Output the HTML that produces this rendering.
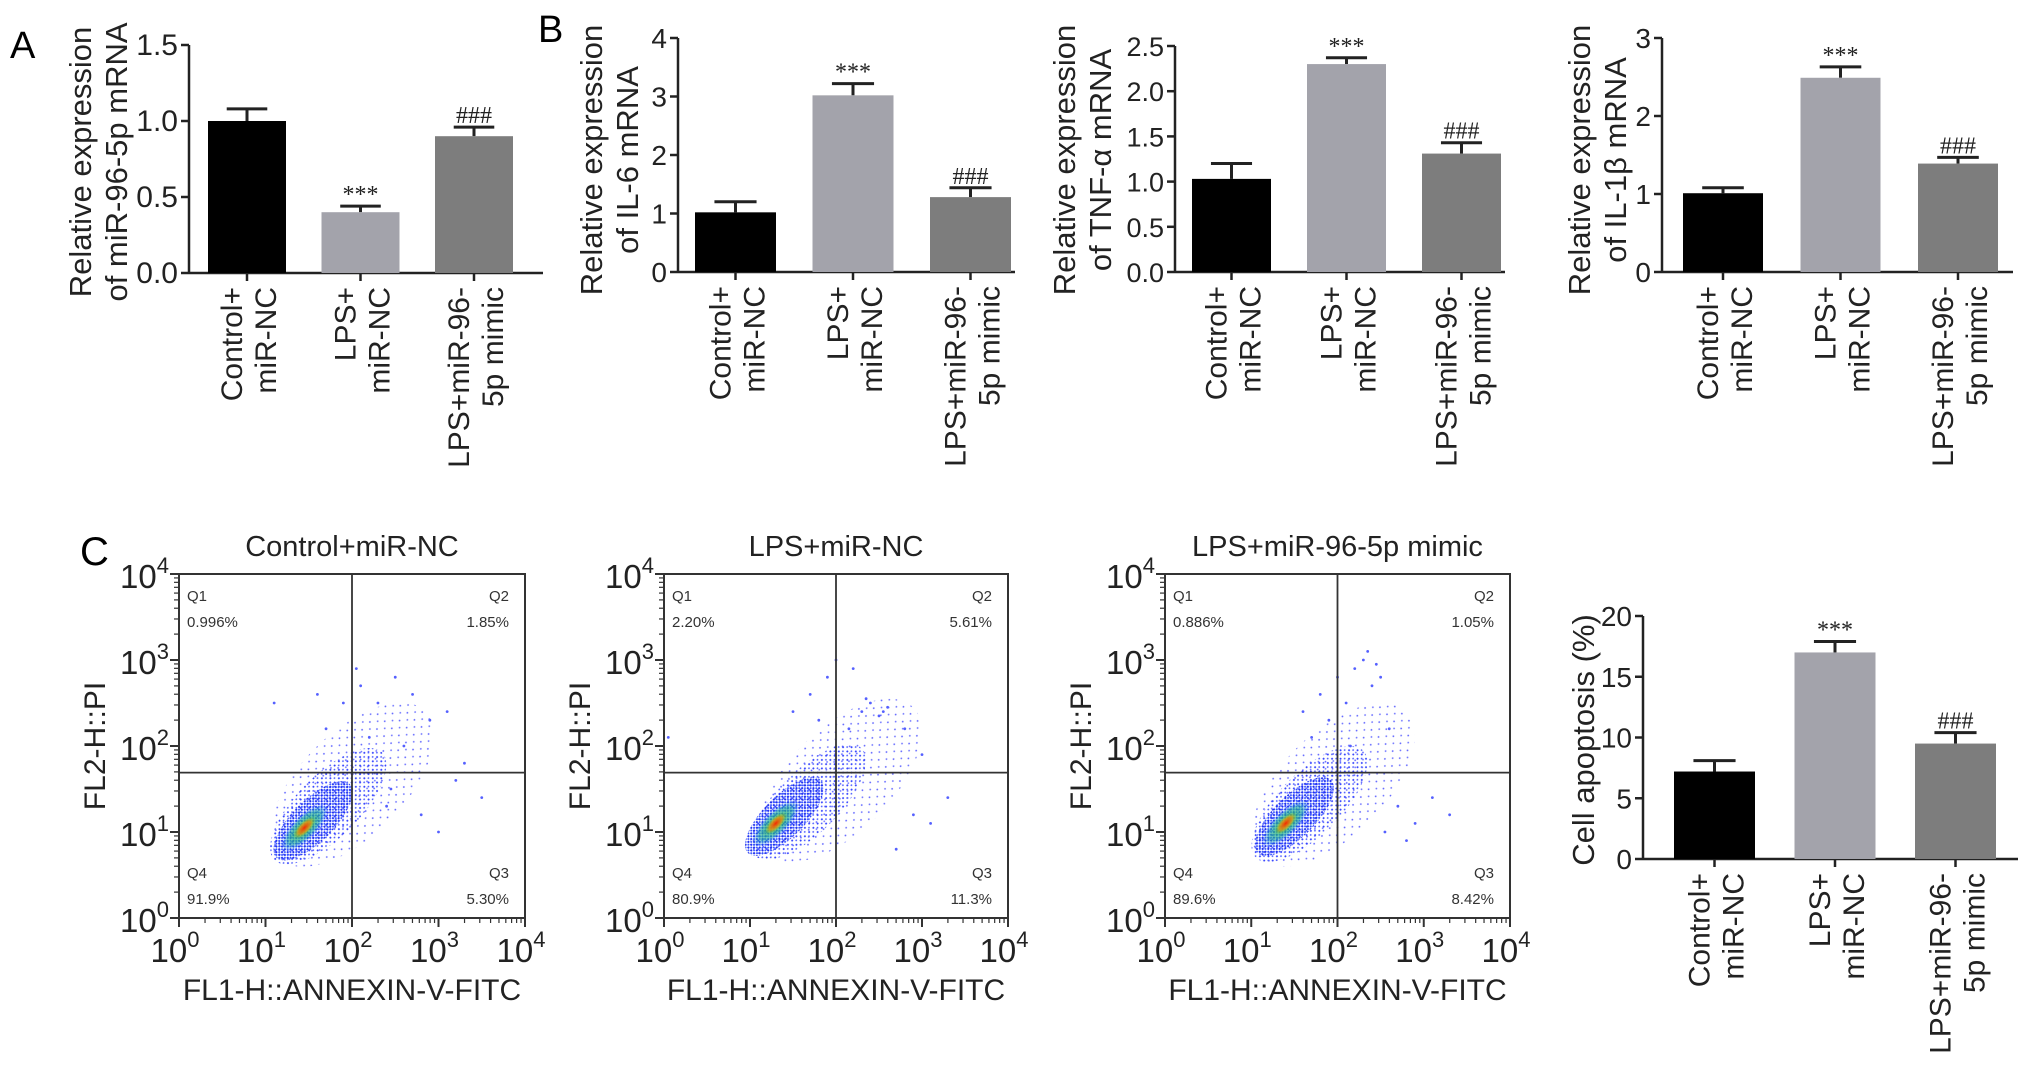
<!DOCTYPE html>
<html><head><meta charset="utf-8"><style>
html,body{margin:0;padding:0;background:#fff;}
svg{display:block;font-family:"Liberation Sans",sans-serif;}
</style></head><body>
<svg id="fig" width="2031" height="1076" viewBox="0 0 2031 1076" xmlns="http://www.w3.org/2000/svg">
<defs>
<radialGradient id="gGreen"><stop offset="0" stop-color="#30c040" stop-opacity="0.95"/><stop offset="0.7" stop-color="#20b0a0" stop-opacity="0.6"/><stop offset="1" stop-color="#2080ff" stop-opacity="0"/></radialGradient>
<radialGradient id="gRed"><stop offset="0" stop-color="#ff2000" stop-opacity="0.95"/><stop offset="0.6" stop-color="#ff9000" stop-opacity="0.7"/><stop offset="1" stop-color="#c0e000" stop-opacity="0"/></radialGradient>
<pattern id="pDense" width="4" height="4" patternUnits="userSpaceOnUse"><circle cx="1" cy="1" r="1.1" fill="#2030f0"/><circle cx="3" cy="3" r="1" fill="#3050ff"/></pattern>
<pattern id="pMid" width="6" height="6" patternUnits="userSpaceOnUse"><circle cx="1.5" cy="2" r="1" fill="#3040ff"/><circle cx="4.5" cy="4.8" r="0.9" fill="#5060ff"/></pattern>
<pattern id="pSparse" width="11" height="10" patternUnits="userSpaceOnUse"><circle cx="2" cy="3" r="0.9" fill="#5a60ff"/><circle cx="8" cy="8" r="0.9" fill="#6a70ff"/></pattern>
</defs>
<text x="10" y="58" font-size="38">A</text>
<text x="538" y="42" font-size="38">B</text>
<text x="80" y="565" font-size="40">C</text>
<g id="charts"></g>
</svg>
<script>
// ---- Bar chart data ----
const categories = [["Control+","miR-NC"],["LPS+","miR-NC"],["LPS+miR-96-","5p mimic"]];
const miR96Values = [1.0, 0.40, 0.90];
const miR96Errors = [0.08, 0.04, 0.06];
const il6Values = [1.02, 3.02, 1.28];
const il6Errors = [0.18, 0.20, 0.16];
const tnfValues = [1.03, 2.30, 1.31];
const tnfErrors = [0.17, 0.07, 0.12];
const il1bValues = [1.01, 2.49, 1.39];
const il1bErrors = [0.07, 0.14, 0.08];
const apoptosisValues = [7.2, 17.0, 9.5];
const apoptosisErrors = [0.9, 0.9, 0.9];
const marks = ["", "***", "###"];
const miR96Marks = ["", "***", "###"];
const ticksA = ["0.0","0.5","1.0","1.5"];
const ticksIL6 = ["0","1","2","3","4"];
const ticksTNF = ["0.0","0.5","1.0","1.5","2.0","2.5"];
const ticksIL1b = ["0","1","2","3"];
const ticksApop = ["0","5","10","15","20"];
// ---- Flow cytometry data ----
const flowTitles = ["Control+miR-NC","LPS+miR-NC","LPS+miR-96-5p mimic"];
const q1Pct = ["0.996%","2.20%","0.886%"];
const q2Pct = ["1.85%","5.61%","1.05%"];
const q3Pct = ["5.30%","11.3%","8.42%"];
const q4Pct = ["91.9%","80.9%","89.6%"];
const gateX = [2.0, 2.0, 2.0];
const gateY = [1.69, 1.69, 1.69];
const coreX = [1.45, 1.3, 1.4];
const coreY = [1.05, 1.1, 1.1];
const cloudX = [2.0, 2.05, 1.95];
const cloudY = [1.55, 1.6, 1.55];
// sparse outlier events, log10 coordinates
const outX1 = [2.1,2.3,2.5,2.7,2.9,3.1,2.2,2.6,3.3,1.7,1.9,2.4,2.8,3.0,1.6,2.05,2.45,3.2,3.5,1.1];
const outY1 = [2.7,2.5,2.8,2.6,2.3,2.4,2.1,2.0,1.8,2.2,2.5,1.3,1.2,1.0,2.6,2.9,1.5,1.6,1.4,2.5];
const outX2 = [2.3,2.4,2.5,2.6,2.2,2.8,3.0,1.7,1.8,2.9,3.1,2.0,1.5,2.7,3.3,1.9,2.35,2.55,0.05,2.15];
const outY2 = [2.4,2.5,2.35,2.45,2.9,2.2,1.9,2.6,2.3,1.2,1.1,3.0,2.4,0.8,1.4,2.8,2.55,2.4,2.1,2.2];
const outX3 = [2.2,2.3,2.4,2.5,2.1,1.8,1.9,2.6,2.7,2.9,3.1,1.7,2.35,2.0,2.8,3.3,2.45,1.6,2.15,2.55];
const outY3 = [2.9,3.0,2.7,2.8,2.5,2.6,2.3,2.2,1.3,1.1,1.4,2.1,3.1,2.8,0.9,1.2,2.95,2.4,2.0,1.0];
const outXs = [outX1,outX2,outX3];
const outYs = [outY1,outY2,outY3];
const decadeTicks = [0,1,2,3,4];

const NS="http://www.w3.org/2000/svg";
const root=document.getElementById('charts');
function el(tag,attrs,parent){const e=document.createElementNS(NS,tag);for(const k in attrs)e.setAttribute(k,attrs[k]);(parent||root).appendChild(e);return e;}

function barChart(cfg){
  const g=el('g',{});
  
  
  const ymax=parseFloat(cfg.ticks[cfg.ticks.length-1]);
  const ys=v=>cfg.y0-(v/ymax)*(cfg.y0-cfg.yTop);
  const colors=["#000","#a3a3ab","#7d7d7d"];
  const yAxis=el('line',{x1:cfg.ax,y1:cfg.yTop,x2:cfg.ax,y2:cfg.y0,stroke:"#222","stroke-width":2.5},g);
  
  
  const xAxis=el('line',{x1:cfg.ax,y1:cfg.y0,x2:cfg.xEnd,y2:cfg.y0,stroke:"#222","stroke-width":2.5},g);
  
  
  cfg.ticks.forEach(t=>{
    const y=ys(parseFloat(t));
    el('line',{x1:cfg.ax-8,y1:y,x2:cfg.ax,y2:y,stroke:"#222","stroke-width":2.5},g);
    const tx=el('text',{x:cfg.ax-11,y:y+10,"font-size":cfg.tfs,"text-anchor":"end",fill:"#222"},g);
    tx.textContent=t;
    
    
  });
  const bw=cfg.bw, pitch=cfg.pitch;
  cfg.values.forEach((v,i)=>{
    const cx=cfg.first+bw/2+i*pitch;
    const top=ys(v), et=ys(v+cfg.errors[i]);
    el('line',{x1:cx,y1:top,x2:cx,y2:et,stroke:"#222","stroke-width":3},g);
    el('line',{x1:cx-bw*0.26,y1:et,x2:cx+bw*0.26,y2:et,stroke:"#222","stroke-width":3},g);
    const r=el('rect',{x:cx-bw/2,y:top,width:bw,height:cfg.y0-top,fill:colors[i]},g);
    
    
    el('line',{x1:cx,y1:cfg.y0,x2:cx,y2:cfg.y0+8,stroke:"#222","stroke-width":2.5},g);
    if(cfg.marks[i]){
      const m=el('text',{x:cx,y:et-4,"font-size":24,"text-anchor":"middle",fill:"#222","font-family":"Liberation Serif, serif"},g);
      m.textContent=cfg.marks[i];
      
      
    }
    const lab=el('text',{transform:`translate(${cx},${cfg.y0+14}) rotate(-90)`,"font-size":30,"text-anchor":"end",fill:"#222"},g);
    
    
    categories[i].forEach((ln,j)=>{const ts=el('tspan',{x:0,y:(j===0?-5:29)},lab);ts.textContent=ln;});
  });
  const tt=el('text',{transform:`translate(${cfg.titleX},${cfg.titleY}) rotate(-90)`,"font-size":31,"text-anchor":"middle",fill:"#222"},g);
  
  
  cfg.title.forEach((ln,j)=>{const ts=el('tspan',{x:0,y:j*36},tt);ts.innerHTML=ln;});
}

barChart({name:"chart-mir96",ax:189,yTop:45,y0:273,xEnd:543,first:208,bw:78,pitch:113.5,values:miR96Values,errors:miR96Errors,marks:miR96Marks,ticks:ticksA,tfs:30,title:["Relative expression","of miR-96-5p mRNA"],titleX:91,titleY:162});
barChart({name:"chart-il6",ax:678,yTop:38,y0:272,xEnd:1015,first:695,bw:81,pitch:117.5,values:il6Values,errors:il6Errors,marks:marks,ticks:ticksIL6,tfs:28,title:["Relative expression","of IL-6 mRNA"],titleX:602,titleY:160});
barChart({name:"chart-tnf",ax:1175,yTop:46,y0:272,xEnd:1505,first:1192,bw:79,pitch:115,values:tnfValues,errors:tnfErrors,marks:marks,ticks:ticksTNF,tfs:27,title:["Relative expression","of TNF-&#945; mRNA"],titleX:1075,titleY:160});
barChart({name:"chart-il1b",ax:1662,yTop:38,y0:272,xEnd:2013,first:1683,bw:80,pitch:117.5,values:il1bValues,errors:il1bErrors,marks:marks,ticks:ticksIL1b,tfs:28,title:["Relative expression","of IL-1&#946; mRNA"],titleX:1590,titleY:160});
barChart({name:"chart-apoptosis",ax:1643,yTop:616,y0:859,xEnd:2018,first:1674,bw:81,pitch:120.5,values:apoptosisValues,errors:apoptosisErrors,marks:marks,ticks:ticksApop,tfs:28,title:["Cell apoptosis (%)"],titleX:1594,titleY:740});

// ---- Flow plots ----
const boxes=[{x0:179,x1:525},{x0:664,x1:1008},{x0:1165,x1:1510}];
const yTopF=574,yBotF=918;
boxes.forEach((b,k)=>{
  const g=el('g',{});
  
  
  const xs=v=>b.x0+(v/4)*(b.x1-b.x0);
  const ys=v=>yBotF-(v/4)*(yBotF-yTopF);
  const w=b.x1-b.x0;
  const ang=-45;
  const ell=(x,y,rx,ry,fill,op)=>el('ellipse',{cx:xs(x),cy:ys(y),rx:rx,ry:ry,fill:fill,opacity:op,transform:`rotate(${ang} ${xs(x)} ${ys(y)})`},g);
  ell(cloudX[k],cloudY[k],w*0.30,w*0.15,"url(#pSparse)",1);
  ell((coreX[k]+cloudX[k])/2,(coreY[k]+cloudY[k])/2,w*0.22,w*0.09,"url(#pMid)",1);
  ell(coreX[k]+0.1,coreY[k]+0.08,w*0.15,w*0.06,"url(#pDense)",1);
  outXs[k].forEach((x,i)=>{
    const c=el('circle',{cx:xs(x),cy:ys(outYs[k][i]),r:1.4,fill:"#5560ff"},g);
    
    
  });
  ell(coreX[k],coreY[k],w*0.09,w*0.035,"url(#gGreen)",1);
  ell(coreX[k],coreY[k],w*0.04,w*0.017,"url(#gRed)",1);
  const box=el('rect',{x:b.x0,y:yTopF,width:w,height:yBotF-yTopF,fill:"none",stroke:"#333","stroke-width":2},g);
  
  
  el('line',{x1:xs(gateX[k]),y1:yTopF,x2:xs(gateX[k]),y2:yBotF,stroke:"#333","stroke-width":1.8},g);
  el('line',{x1:b.x0,y1:ys(gateY[k]),x2:b.x1,y2:ys(gateY[k]),stroke:"#333","stroke-width":1.8},g);
  decadeTicks.forEach(d=>{
    el('line',{x1:xs(d),y1:yBotF,x2:xs(d),y2:yBotF+9,stroke:"#333","stroke-width":2},g);
    el('line',{x1:b.x0-9,y1:ys(d),x2:b.x0,y2:ys(d),stroke:"#333","stroke-width":2},g);
    if(d<4){for(let m=2;m<10;m++){const o=Math.log10(m);
      el('line',{x1:xs(d+o),y1:yBotF,x2:xs(d+o),y2:yBotF+5,stroke:"#333","stroke-width":1.2},g);
      el('line',{x1:b.x0-5,y1:ys(d+o),x2:b.x0,y2:ys(d+o),stroke:"#333","stroke-width":1.2},g);}}
    const tx=el('text',{x:xs(d)-4,y:yBotF+44,"font-size":33,"text-anchor":"middle",fill:"#222"},g);
    tx.innerHTML=`10<tspan dy="-15" font-size="22">${d}</tspan>`;
    const ty=el('text',{x:b.x0-10,y:ys(d)+14,"font-size":33,"text-anchor":"end",fill:"#222"},g);
    ty.innerHTML=`10<tspan dy="-15" font-size="22">${d}</tspan>`;
  });
  const q=[["Q1",q1Pct[k],b.x0+8,yTopF+27,"start"],["Q2",q2Pct[k],b.x1-16,yTopF+27,"end"],["Q4",q4Pct[k],b.x0+8,yBotF-40,"start"],["Q3",q3Pct[k],b.x1-16,yBotF-40,"end"]];
  q.forEach(r=>{
    const t1=el('text',{x:r[2],y:r[3],"font-size":15,"text-anchor":r[4],fill:"#333"},g);t1.textContent=r[0];
    const t2=el('text',{x:r[2],y:r[3]+26,"font-size":15,"text-anchor":r[4],fill:"#333"},g);t2.textContent=r[1];
    
    
  });
  const tt=el('text',{x:(b.x0+b.x1)/2,y:556,"font-size":29,"text-anchor":"middle",fill:"#222"},g);
  tt.textContent=flowTitles[k];
  
  
  const xl=el('text',{x:(b.x0+b.x1)/2,y:1000,"font-size":30,"text-anchor":"middle",fill:"#222"},g);
  xl.textContent="FL1-H::ANNEXIN-V-FITC";
  
  
  const yl=el('text',{transform:`translate(${b.x0-74},${(yTopF+yBotF)/2}) rotate(-90)`,"font-size":30,"text-anchor":"middle",fill:"#222"},g);
  yl.textContent="FL2-H::PI";
  
  
});
</script>
</body></html>
